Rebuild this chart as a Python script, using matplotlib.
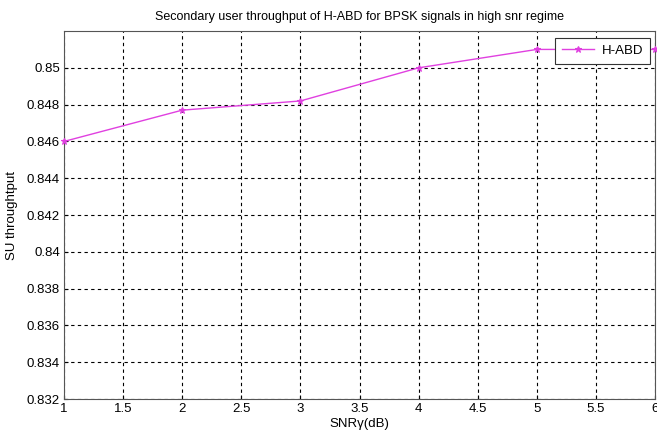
import matplotlib
matplotlib.use("Agg")
import matplotlib.pyplot as plt

plt.rcParams['font.family'] = ['Liberation Sans', 'DejaVu Sans']

snr_db = [1, 2, 3, 4, 5, 6]
su_throughput = [0.846, 0.8477, 0.8482, 0.850, 0.851, 0.851]
x_ticks = [1, 1.5, 2, 2.5, 3, 3.5, 4, 4.5, 5, 5.5, 6]
x_tick_labels = ['1', '1.5', '2', '2.5', '3', '3.5', '4', '4.5', '5', '5.5', '6']
y_ticks = [0.832, 0.834, 0.836, 0.838, 0.84, 0.842, 0.844, 0.846, 0.848, 0.85]
y_tick_labels = ['0.832', '0.834', '0.836', '0.838', '0.84', '0.842', '0.844', '0.846', '0.848', '0.85']

fig = plt.figure(figsize=(6.57, 4.40), dpi=100)
ax = fig.add_axes([0.0974, 0.093, 0.8996, 0.8365])

ax.plot(snr_db, su_throughput, color='#e040e0', linewidth=1.0, marker='*',
        markersize=5, markeredgewidth=0.8, label='H-ABD', clip_on=False, zorder=3)

ax.set_xlim(1, 6)
ax.set_ylim(0.832, 0.852)
ax.set_xticks(x_ticks)
ax.set_xticklabels(x_tick_labels)
ax.set_yticks(y_ticks)
ax.set_yticklabels(y_tick_labels)
ax.tick_params(labelsize=9.5, direction='in', length=3, pad=3)
ax.grid(True, color='black', linestyle=(0, (3, 3)), linewidth=0.8)
for s in ax.spines.values():
    s.set_color('#555555')
    s.set_linewidth(0.8)

ax.set_xlabel('SNR\u03b3(dB)', fontsize=9.5, labelpad=2)
ax.set_ylabel('SU throughtput', fontsize=9.5, labelpad=6)
ax.set_title('Secondary user throughput of H-ABD for BPSK signals in high snr regime',
             fontsize=9, pad=8)

leg = ax.legend(loc='upper right', fontsize=9.5, fancybox=False, framealpha=1,
                edgecolor='#333333', borderpad=0.55, handlelength=2.4,
                handletextpad=0.6, borderaxespad=0.3,
                bbox_to_anchor=(0.9985, 0.993))
leg.get_frame().set_linewidth(0.8)

fig.savefig('out.png', dpi=100)
